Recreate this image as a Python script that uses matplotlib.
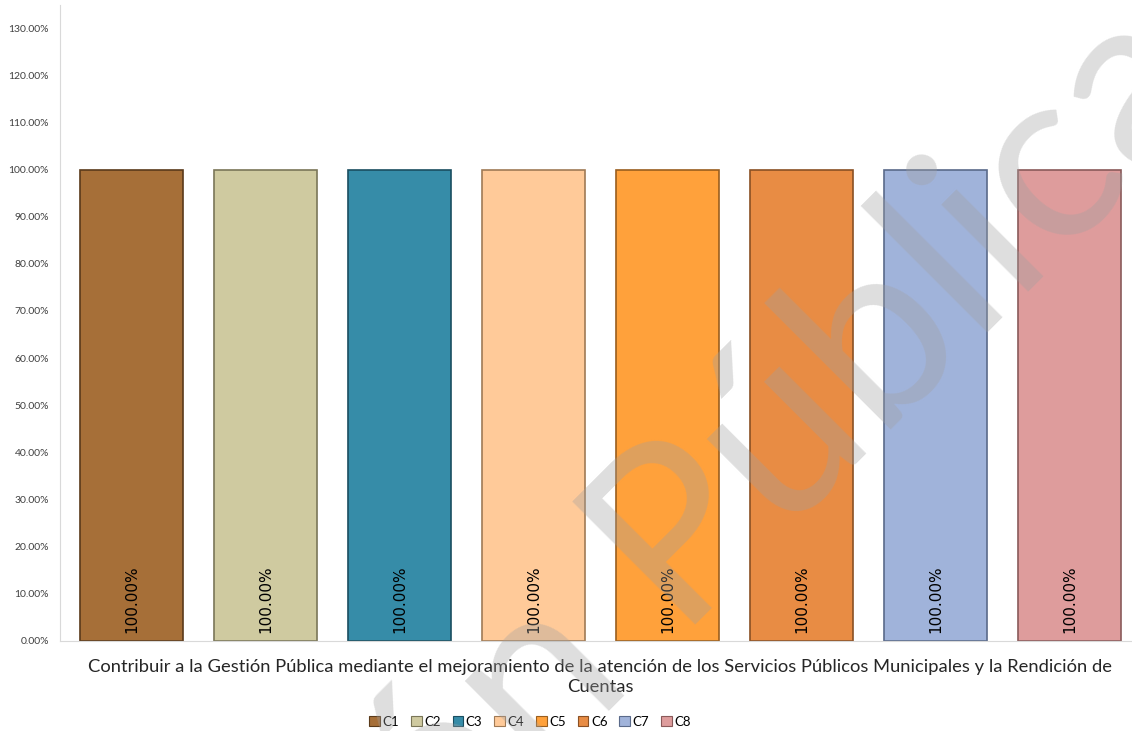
import numpy as np
import matplotlib.pyplot as plt
from matplotlib.patches import Patch

# series names, values and colours
series = ["C1", "C2", "C3", "C4", "C5", "C6", "C7", "C8"]
values = [1.0, 1.0, 1.0, 1.0, 1.0, 1.0, 1.0, 1.0]
colors = ["#A66F38", "#CFCAA0", "#368CA8", "#FFCA99", "#FFA13B", "#E88C44", "#A0B3DA", "#DE9C9C"]
edges = ["#5A3A1A", "#7A7658", "#1A4E60", "#A07A55", "#9A5E1E", "#8A5024", "#5A6A8A", "#8A5A5A"]
yticks = np.arange(0, 1.31, 0.1)
category = ("Contribuir a la Gestión Pública mediante el mejoramiento de la atención de los "
            "Servicios Públicos Municipales y la Rendición de\nCuentas")

plt.rcParams['font.family'] = ['Lato', 'DejaVu Sans']

W, H = 1132, 731
fig = plt.figure(figsize=(W / 100, H / 100), dpi=100)
ax = fig.add_axes([60 / W, 90 / H, 1072 / W, 636 / H])

x = np.arange(len(series))
bars = ax.bar(x, values, width=0.77, color=colors, edgecolor=edges, linewidth=1.2, zorder=2)

for xi, v in zip(x, values):
    ax.text(xi, 0.089, "{:.2f}%".format(v * 100), rotation=90, ha='center', va='center',
            fontsize=11, color='black', family=['DejaVu Sans'], zorder=3)

ax.set_xlim(-0.534, 7.466)
ax.set_ylim(0, 1.349)
ax.set_yticks(yticks)
ax.set_yticklabels(["{:.2f}%".format(t * 100) for t in yticks], fontsize=7.5, color='#404040')
ax.set_xticks([])
ax.tick_params(axis='y', length=0, pad=8)
for s in ['top', 'right']:
    ax.spines[s].set_visible(False)
ax.spines['left'].set_color('#D9D9D9')
ax.spines['bottom'].set_color('#D9D9D9')

fig.text(600 / W, 1 - 677 / H, category, ha='center', va='center', fontsize=13.2,
         color='#262626', linespacing=1.3)

handles = [Patch(facecolor=c, edgecolor=e, linewidth=0.8) for c, e in zip(colors, edges)]
fig.legend(handles, series, loc='center', bbox_to_anchor=(530 / W, 1 - 722 / H), ncol=8,
           frameon=False, fontsize=9.5, handlelength=0.8, handleheight=0.8, handletextpad=0.2,
           columnspacing=0.9)

# watermark: "P" of "Pública" starts near pixel (680, 640), baseline at 45 degrees
wm_size = 175
renderer = fig.canvas.get_renderer()
t1 = fig.text(0, 0, "Versión P", fontsize=wm_size)
t2 = fig.text(0, 0, "P", fontsize=wm_size)
shift = t1.get_window_extent(renderer).width - t2.get_window_extent(renderer).width
t1.remove()
t2.remove()
px, py = 680 - shift * np.cos(np.pi / 4), 640 + shift * np.sin(np.pi / 4)
fig.text(px / W, 1 - py / H, "Versión Pública", rotation=45, rotation_mode='anchor',
         ha='left', va='baseline', fontsize=wm_size, color='#A0A0A0', alpha=0.35, zorder=10)

fig.savefig("out.png", dpi=100)
